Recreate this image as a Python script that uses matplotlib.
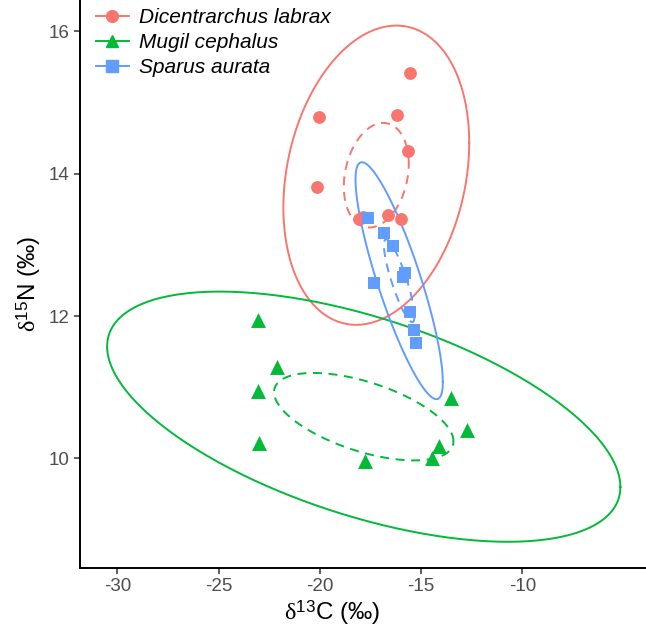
import numpy as np
import matplotlib
matplotlib.use("Agg")
from matplotlib import pyplot as plt
from matplotlib.lines import Line2D

plt.rcParams['font.family'] = ['Liberation Sans', 'DejaVu Sans']
plt.rcParams['axes.unicode_minus'] = False
plt.rcParams['mathtext.fontset'] = 'custom'
plt.rcParams['mathtext.rm'] = 'Liberation Serif'
plt.rcParams['mathtext.sf'] = 'Liberation Sans'
plt.rcParams['mathtext.it'] = 'Liberation Serif:italic'

species = ["Dicentrarchus labrax", "Mugil cephalus", "Sparus aurata"]
colors = ["#F8766D", "#00BA38", "#619CFF"]
markers = ["o", "^", "s"]

# d13C / d15N values
labrax_c = [-15.56, -20.05, -16.21, -15.67, -20.16, -18.06, -17.86, -16.66, -16.00]
labrax_n = [15.41, 14.79, 14.83, 14.32, 13.81, 13.37, 13.39, 13.42, 13.37]
mugil_c = [-23.05, -22.14, -23.05, -23.00, -17.78, -14.49, -14.11, -13.55, -12.76]
mugil_n = [11.95, 11.28, 10.95, 10.22, 9.97, 10.00, 10.18, 10.85, 10.40]
sparus_c = [-17.61, -16.82, -16.38, -15.90, -15.80, -17.33, -15.56, -15.36, -15.27]
sparus_n = [13.38, 13.16, 12.99, 12.55, 12.60, 12.46, 12.05, 11.81, 11.62]

x_ticks = [-30, -25, -20, -15, -10]
y_ticks = [10, 12, 14, 16]


def cov_trob(x, nu=5, maxit=25, tol=0.01):
    # robust t covariance, same steps as MASS::cov.trob
    n, p = x.shape
    wt = np.ones(n)
    loc = x.mean(axis=0)
    w = np.sqrt(wt)
    for it in range(maxit):
        w0 = w
        X = x - loc
        U, d, Vt = np.linalg.svd(np.sqrt(w / w.sum())[:, None] * X,
                                 full_matrices=False)
        wX = X @ Vt.T @ np.diag(1 / d)
        Q = (wX ** 2).sum(axis=1)
        w = wt * (nu + p) / (nu + Q)
        loc = (w[:, None] * x).sum(axis=0) / w.sum()
        if np.all(np.abs(w - w0) < tol):
            break
    sw = np.sqrt(w)[:, None] * X
    return loc, sw.T @ sw / wt.sum()


def ellipse(xs, ys, level, segments=240):
    pts = np.column_stack([xs, ys])
    center, shape = cov_trob(pts)
    dfd = len(xs) - 1
    fq = dfd / 2 * ((1 - level) ** (-2 / dfd) - 1)
    radius = np.sqrt(2 * fq)
    a = np.linspace(0, 2 * np.pi, segments + 1)
    circle = np.column_stack([np.cos(a), np.sin(a)])
    e = center + radius * circle @ np.linalg.cholesky(shape).T
    return e[:, 0], e[:, 1]


fig = plt.figure(figsize=(6.46, 6.33), dpi=100)
ax = fig.add_axes([80 / 646, 65 / 633, 1 - 80 / 646, 1 - 65 / 633])

groups = [(labrax_c, labrax_n), (mugil_c, mugil_n), (sparus_c, sparus_n)]
sizes = [85, 115, 80]
handles = []
for (gx, gy), name, col, mk, sz in zip(groups, species, colors, markers, sizes):
    ex, ey = ellipse(gx, gy, 0.95)
    ax.plot(ex, ey, color=col, lw=1.4)
    ex, ey = ellipse(gx, gy, 0.40)
    ax.plot(ex, ey, color=col, lw=1.4, linestyle=(0, (4.6, 3.4)))
    ax.scatter(gx, gy, s=sz, color=col, marker=mk, linewidths=0, zorder=3)
    handles.append(Line2D([], [], color=col, lw=1.4, marker=mk,
                          markersize=8.5, label=name))

ax.set_xlim(-31.85, -3.9)
ax.set_ylim(8.46, 16.44)
ax.set_xticks(x_ticks)
ax.set_yticks(y_ticks)
ax.tick_params(colors="#333333", labelcolor="#4D4D4D", labelsize=13.5,
               length=4, width=1.1)
for s in ["top", "right"]:
    ax.spines[s].set_visible(False)
for s in ["left", "bottom"]:
    ax.spines[s].set_linewidth(1.4)

ax.set_xlabel(r"$\mathrm{\delta}^{\mathsf{13}}$C (‰)", fontsize=17.5)
ax.xaxis.set_label_coords((332 - 80) / 566, -0.053)
ax.set_ylabel(r"$\mathrm{\delta}^{\mathsf{15}}$N (‰)", fontsize=17.5, labelpad=4)

leg = ax.legend(handles=handles, loc="upper left", bbox_to_anchor=(0.013, 1.0),
                frameon=False, prop={"style": "italic", "size": 15},
                handlelength=1.6, handletextpad=0.5, labelspacing=0.28,
                borderaxespad=0)

fig.savefig("out.png", dpi=100)
